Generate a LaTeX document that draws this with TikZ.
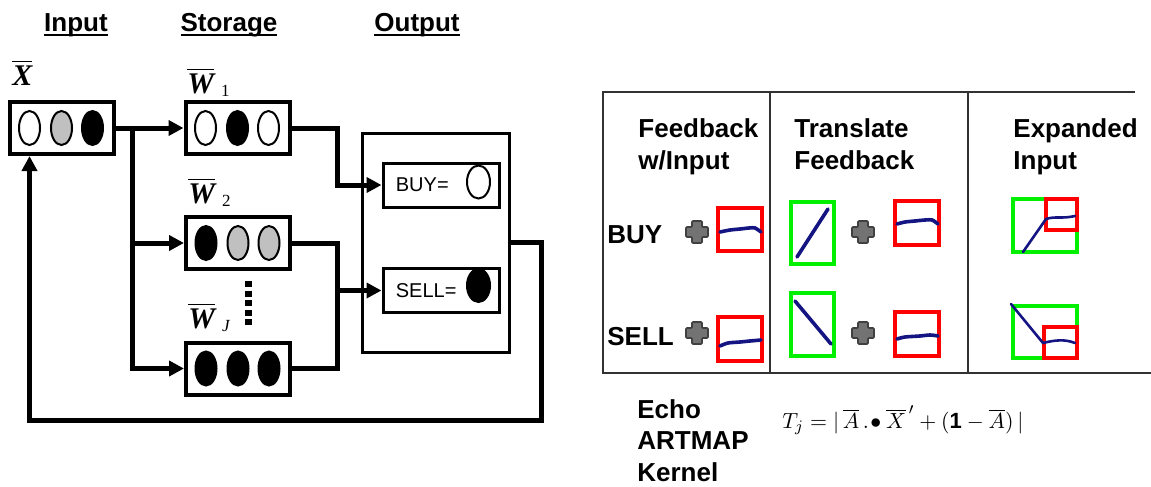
\documentclass[tikz,border=0pt]{standalone}
\usepackage{fontspec}
\setmainfont{Liberation Sans}
\newfontfamily\serifbi{Liberation Serif}
\usepackage{amsmath,amssymb}
\usepackage{xcolor}
\usepackage{tikz}
\usetikzlibrary{arrows.meta,shapes.geometric,positioning,calc}
\definecolor{ARTRed}{RGB}{255,0,0}
\definecolor{ARTGreen}{RGB}{0,240,0}
\definecolor{ARTBlue}{RGB}{20,20,130}
\definecolor{ARTGray}{RGB}{115,115,115}
\definecolor{CellGray}{RGB}{192,192,192}
\definecolor{TableGray}{RGB}{50,50,50}
\tikzset{
  membox/.style={draw,line width=2pt,minimum width=52pt,minimum height=26pt,inner sep=0pt},
  outbox/.style={draw,line width=1.5pt,minimum width=58pt,minimum height=22pt,inner sep=0pt},
  cell/.style={ellipse,draw,line width=1pt,minimum width=10.5pt,minimum height=17pt,inner sep=0pt},
  head/.style={font=\bfseries\fontsize{13}{15}\selectfont,anchor=base,inner sep=0pt},
  wlabel/.style={font=\fontsize{15}{17}\selectfont,anchor=base west,inner sep=0pt},
  small/.style={font=\fontsize{10}{12}\selectfont,anchor=west,inner sep=0pt},
  colhead/.style={font=\bfseries\fontsize{13}{16}\selectfont,align=left,anchor=north west,inner sep=0pt},
  rowhead/.style={font=\bfseries\fontsize{13}{15}\selectfont,anchor=base west,inner sep=0pt},
  arr/.style={-{Triangle[length=7.5pt,width=7.5pt]},line width=2.5pt},
  wire/.style={line width=2.5pt},
  tline/.style={draw=TableGray,line width=0.7pt},
  redframe/.style={draw=ARTRed,line width=1.6pt},
  greenframe/.style={draw=ARTGreen,line width=1.6pt},
  trace/.style={draw=ARTBlue,line width=1.8pt,line cap=round},
  plusmark/.pic={\filldraw[fill=ARTGray,draw=black!75,line width=0.8pt,rounded corners=0.5pt]
    (-5,-11)--(5,-11)--(5,-5)--(11,-5)--(11,5)--(5,5)--(5,11)
    --(-5,11)--(-5,5)--(-11,5)--(-11,-5)--(-5,-5)--cycle;},
}
\newcommand{\wbar}[1]{$\overline{\hbox{\serifbi\bfseries\itshape #1}}$}
\newcommand{\wsub}[1]{\hspace{3.5pt}\raisebox{-1.5pt}{\serifbi\fontsize{8.5}{9}\selectfont #1}}
\newcommand{\uline}[1]{\setbox0\hbox{#1}\rlap{\rule[-2.2pt]{\wd0}{1.1pt}}\box0}

\begin{document}
\begin{tikzpicture}[x=0.5pt,y=-0.5pt]
  \useasboundingbox (0,0) rectangle (1151,487);
  \node[head] (hin)  at (76,32)  {\uline{Input}};
  \node[head] (hst)  at (229,32) {\uline{Storage}};
  \node[head] (hout) at (417,32) {\uline{Output}};
  \node[wlabel] (xlab)  at (12,85)   {\wbar{X}};
  \node[wlabel] (w1lab) at (187,93)  {\wbar{W}\wsub{1}};
  \node[wlabel] (w2lab) at (188,203) {\wbar{W}\wsub{2}};
  \node[wlabel] (wjlab) at (188,328) {\wbar{W}\wsub{\itshape J}};
  \node[membox] (in) at (61.5,128) {};
  \node[membox] (w1) at (237.5,128) {};
  \node[membox] (w2) at (238,243) {};
  \node[membox] (wj) at (238,368.5) {};
  \foreach \b/\ca/\cb/\cc in {in/white/CellGray/black,w1/white/black/white,w2/black/CellGray/CellGray,wj/black/black/black}{
    \node[cell,fill=\ca] (\b-1) at ($(\b)+(-32,0)$) {};
    \node[cell,fill=\cb] (\b-2) at (\b) {};
    \node[cell,fill=\cc] (\b-3) at ($(\b)+(31,0)$) {};
  }
  \coordinate (dtop) at (248,281);
  \coordinate (dbot) at (248,327);
  \draw[line width=3.5pt,dash pattern=on 3pt off 1.8pt] (dtop) -- (dbot);
  \node[draw,line width=1.5pt,minimum width=73.5pt,minimum height=109.5pt] (out) at (435.5,242.5) {};
  \node[outbox] (buy)  at (441,185) {};
  \node[outbox] (sell) at (441,290.5) {};
  \node[small] (buytxt)  at ($(buy.west)+(14,0)$)  {BUY=};
  \node[small] (selltxt) at ($(sell.west)+(14,0)$) {SELL=};
  \node[cell,minimum width=11.5pt,minimum height=16.5pt,fill=white] (buyval)  at ($(buy.east)+(-22,-3)$) {};
  \node[cell,minimum width=11.5pt,minimum height=16.5pt,fill=black] (sellval) at ($(sell.east)+(-22,-5)$) {};
  \coordinate (br)    at (132,128);
  \coordinate (buyj)  at (337,128);
  \coordinate (sellj) at (337,290.5);
  \coordinate (fb)    at (541,420);
  \draw[arr] (in.east) -- (w1.west);
  \draw[arr] (br) |- (w2.west);
  \draw[arr] (br) |- (wj.west);
  \draw[arr] (w1.east) -- (buyj) |- (buy.west);
  \draw[wire] (w2.east) -| (sellj) |- (wj.east);
  \draw[arr] (sellj) -- (sell.west);
  \draw[arr] (out.east) -| (fb) -| (in.south -| in-1);

  \draw[tline] (1135,92) -- (603,92) -- (603,373) -- (1151,373);
  \draw[tline] (770,92) -- (770,373);
  \draw[tline] (968,92) -- (968,373);
  \node[colhead] (c1) at (638,118)  {Feedback\\w/Input};
  \node[colhead] (c2) at (794,118)  {Translate\\Feedback};
  \node[colhead] (c3) at (1013,118) {Expanded\\Input};
  \node[rowhead] (rbuy)  at (607,243) {BUY};
  \node[rowhead] (rsell) at (607,345) {SELL};
  \pic at (697,232) {plusmark};
  \pic at (697,333) {plusmark};
  \pic at (863,232) {plusmark};
  \pic at (863,333) {plusmark};
  \draw[redframe] (718,208) rectangle (762,251);
  \draw[trace] plot[smooth] coordinates {(720,232) (730,230) (740,229) (749,228) (755,228) (761,232)};
  \draw[redframe] (718,317) rectangle (762,361);
  \draw[trace] plot[smooth] coordinates {(720,346) (728,343) (740,342) (750,341) (761,340)};
  \draw[greenframe] (791,202) rectangle (834,264);
  \draw[trace] (797,257) -- (828,209);
  \draw[greenframe] (791,293) rectangle (834,356);
  \draw[trace] (795,301) -- (831,344);
  \draw[redframe] (895,201) rectangle (939,245);
  \draw[trace] plot[smooth] coordinates {(897,224) (905,222) (915,221) (925,220) (932,220) (938,224)};
  \draw[redframe] (895,312) rectangle (939,356);
  \draw[trace] plot[smooth] coordinates {(897,339) (905,337) (920,336) (930,335) (938,336)};
  \draw[greenframe] (1013,199) rectangle (1077,252);
  \draw[redframe] (1046,199) rectangle (1077,230);
  \draw[trace,line width=1.3pt] (1023,252) -- (1046,219) .. controls (1055,216) and (1062,219) .. (1075,216);
  \draw[greenframe] (1013,306) rectangle (1077,358);
  \draw[redframe] (1044,327) rectangle (1077,358);
  \draw[trace,line width=1.3pt] (1011,304) -- (1043,343) .. controls (1055,340) and (1065,339) .. (1075,343);
  \node[colhead,font=\bfseries\fontsize{13}{15.8}\selectfont] (kern) at (637,399) {Echo\\ARTMAP\\Kernel};
  \node[anchor=base west,inner sep=0pt,font=\fontsize{11}{13}\selectfont] (formula) at (782,428)
    {$T_j =|\,\overline{A}\,.\!\bullet\overline{X}^{\,\prime} + (\mathbf{1}-\overline{A})\,|$};
\end{tikzpicture}
\end{document}
